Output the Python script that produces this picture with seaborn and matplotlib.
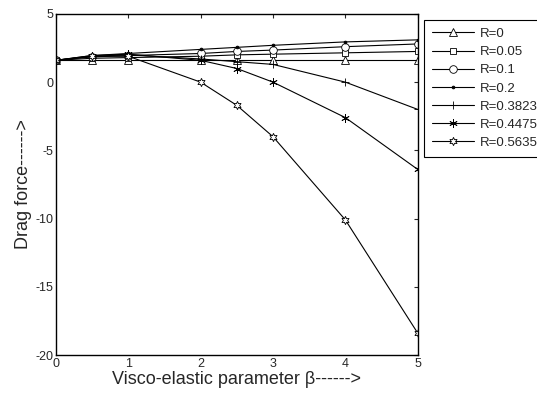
import numpy as np
import pandas as pd
import seaborn as sns
import matplotlib.pyplot as plt

beta = [0, 0.5, 1, 2, 2.5, 3, 4, 5]
r_labels = ['R=0', 'R=0.05', 'R=0.1', 'R=0.2', 'R=0.3823', 'R=0.4475', 'R=0.5635']
drag_r0 = [1.6, 1.6, 1.6, 1.6, 1.6, 1.6, 1.6, 1.6]
drag_r005 = [1.6, 1.75, 1.8, 1.9, 2.0, 2.05, 2.15, 2.25]
drag_r01 = [1.6, 1.85, 1.95, 2.1, 2.25, 2.35, 2.6, 2.8]
drag_r02 = [1.6, 1.95, 2.1, 2.4, 2.55, 2.7, 2.95, 3.1]
drag_r03823 = [1.6, 1.9, 2.0, 1.7, 1.5, 1.3, 0.0, -2.0]
drag_r04475 = [1.6, 1.95, 2.05, 1.6, 1.0, 0.0, -2.6, -6.4]
drag_r05635 = [1.6, 1.9, 1.9, 0.0, -1.7, -4.0, -10.1, -18.4]

series = [drag_r0, drag_r005, drag_r01, drag_r02,
          drag_r03823, drag_r04475, drag_r05635]

sns.set_style('white')
plt.rcParams['font.family'] = ['Liberation Sans', 'DejaVu Sans']
plt.rcParams['axes.unicode_minus'] = False

frames = []
for label, vals in zip(r_labels, series):
    frames.append(pd.DataFrame({'beta': beta, 'drag': vals, 'R': label}))
df = pd.concat(frames, ignore_index=True)

fig = plt.figure(figsize=(5.37, 3.98), dpi=100)
ax = fig.add_axes([0.104, 0.108, 0.674, 0.857])

# MATLAB-like marker set, open shapes get a white face
markers = ['^', 's', 'o', '.', '+', (6, 2, 0), (6, 1, 0)]
sizes = [6, 5, 5.5, 4, 6, 6, 6]
for label, mk, ms in zip(r_labels, markers, sizes):
    sub = df[df['R'] == label]
    sns.lineplot(data=sub, x='beta', y='drag', ax=ax, color='black',
                 linewidth=0.8, marker=mk, markersize=ms,
                 markerfacecolor='white' if mk not in ['.', '+', (6, 2, 0)] else 'black',
                 markeredgecolor='black', markeredgewidth=0.6,
                 label=label, estimator=None)

ax.set_xlim(0, 5)
ax.set_ylim(-20, 5)
ax.set_xticks([0, 1, 2, 3, 4, 5])
ax.set_yticks([-20, -15, -10, -5, 0, 5])
ax.tick_params(direction='in', top=True, right=True, length=3,
               labelsize=9, width=0.8, pad=2)
for sp in ax.spines.values():
    sp.set_color('black')
    sp.set_linewidth(1.0)
ax.set_xlabel('Visco-elastic parameter β------>', fontsize=13, labelpad=1)
ax.set_ylabel('Drag force------>', fontsize=13, labelpad=2)

leg = ax.legend(loc='upper left', bbox_to_anchor=(0.79, 0.95),
                bbox_transform=fig.transFigure, fontsize=9.5, frameon=True,
                fancybox=False, edgecolor='black', framealpha=1,
                handlelength=3.2, borderpad=0.6, labelspacing=0.45,
                handletextpad=0.4, borderaxespad=0)
leg.get_frame().set_linewidth(0.8)

fig.savefig('out.png', dpi=100)
